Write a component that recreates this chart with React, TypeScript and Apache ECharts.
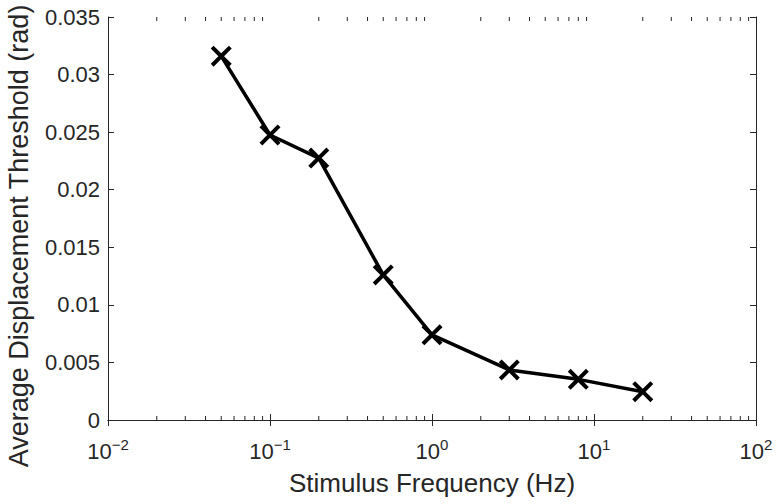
import React, { useEffect, useRef } from "react";
import * as echarts from "echarts";

const frequencies = [0.05, 0.1, 0.2, 0.5, 1, 3, 8, 20];
const thresholds = [0.0316, 0.02475, 0.02275, 0.0126, 0.0074, 0.00435, 0.00353, 0.00246];
const yTicks = [0, 0.005, 0.01, 0.015, 0.02, 0.025, 0.03, 0.035];
const xDecades = [0.01, 0.1, 1, 10, 100];
const minorMultipliers = [2, 3, 4, 5, 6, 7, 8, 9];
const yTitle = "Average Displacement Threshold (rad)";
const xTitle = "Stimulus Frequency (Hz)";

const AXIS = "#262626";
const FONT = "'Liberation Sans', Arial, Helvetica, sans-serif";

export default function App() {
  const ref = useRef<HTMLDivElement>(null);
  useEffect(() => {
    if (!ref.current) return;
    const chart = echarts.init(ref.current, undefined, { renderer: "svg" });
    const minorTicks: number[][] = [];
    xDecades.slice(0, -1).forEach((d) => minorMultipliers.forEach((m) => minorTicks.push([d * m, 0])));
    const xmin = xDecades[0];
    const xmax = xDecades[xDecades.length - 1];
    const ymin = yTicks[0];
    const ymax = yTicks[yTicks.length - 1];
    const step = yTicks[1] - yTicks[0];
    const expLabel = (v: number) => {
      const e = Math.round(Math.log10(v));
      const s = e < 0 ? "\u2212" + Math.abs(e) : String(e);
      return "{b|10}{s|" + s + "}";
    };
    const xCommon = {
      type: "log" as const,
      logBase: 10,
      min: xmin,
      max: xmax,
      splitLine: { show: false },
      axisLine: { show: true, lineStyle: { color: AXIS, width: 1 } },
      axisTick: { show: true, inside: true, length: 6, lineStyle: { color: AXIS } },
    };
    const yCommon = {
      type: "value" as const,
      min: ymin,
      max: ymax,
      interval: step,
      splitLine: { show: false },
      axisLine: { show: true, lineStyle: { color: AXIS, width: 1 } },
      axisTick: { show: true, inside: true, length: 6, lineStyle: { color: AXIS } },
    };
    chart.setOption({
      animation: false,
      backgroundColor: "#ffffff",
      textStyle: { fontFamily: FONT },
      grid: { left: 108, right: 21, top: 17, bottom: 84, containLabel: false },
      graphic: [
        {
          type: "text",
          x: 19,
          y: 236,
          rotation: Math.PI / 2,
          style: {
            text: yTitle,
            fontSize: 27,
            fontFamily: FONT,
            fill: AXIS,
            textAlign: "center",
            textVerticalAlign: "middle",
          },
        },
      ],
      xAxis: [
        {
          ...xCommon,
          position: "bottom",
          name: xTitle,
          nameLocation: "middle",
          nameGap: 50,
          nameTextStyle: { fontSize: 26, color: AXIS, fontFamily: FONT },
          axisLabel: {
            margin: 17,
            color: AXIS,
            formatter: (v: number) => expLabel(v),
            rich: {
              b: { fontSize: 22, fontFamily: FONT, color: AXIS },
              s: { fontSize: 15, fontFamily: FONT, color: AXIS, padding: [0, 0, 14, 0] },
            },
          },
        },
        {
          ...xCommon,
          position: "top",
          axisLabel: { show: false },
        },
      ],
      yAxis: [
        {
          ...yCommon,
          position: "left",
          axisLabel: {
            fontSize: 22,
            color: AXIS,
            margin: 8,
            fontFamily: FONT,
            formatter: (v: number) => String(parseFloat(v.toFixed(3))),
          },
        },
        {
          ...yCommon,
          position: "right",
          axisLabel: { show: false },
        },
      ],
      series: [
        {
          type: "line",
          data: frequencies.map((f, i) => [f, thresholds[i]]),
          xAxisIndex: 0,
          yAxisIndex: 0,
          lineStyle: { color: "#000000", width: 3.5 },
          symbol: "path://M2.7,0 L10,7.3 L17.3,0 L20,2.7 L12.7,10 L20,17.3 L17.3,20 L10,12.7 L2.7,20 L0,17.3 L7.3,10 L0,2.7 Z",
          symbolSize: 21,
          itemStyle: { color: "#000000" },
          z: 5,
        },
        {
          type: "custom",
          xAxisIndex: 0,
          yAxisIndex: 0,
          silent: true,
          clip: false,
          data: minorTicks,
          renderItem: (params: any, api: any) => {
            const v = api.value(0);
            const b = api.coord([v, ymin]);
            const t = api.coord([v, ymax]);
            const st = { stroke: AXIS, lineWidth: 1 };
            return {
              type: "group",
              children: [
                { type: "line", shape: { x1: b[0], y1: b[1], x2: b[0], y2: b[1] - 4 }, style: st },
                { type: "line", shape: { x1: t[0], y1: t[1], x2: t[0], y2: t[1] + 4 }, style: st },
              ],
            };
          },
          z: 3,
        },
      ],
    });
    return () => chart.dispose();
  }, []);
  return (
    <div
      ref={ref}
      style={{ position: "fixed", left: 0, top: 0, width: 777, height: 504, background: "#fff" }}
    />
  );
}
